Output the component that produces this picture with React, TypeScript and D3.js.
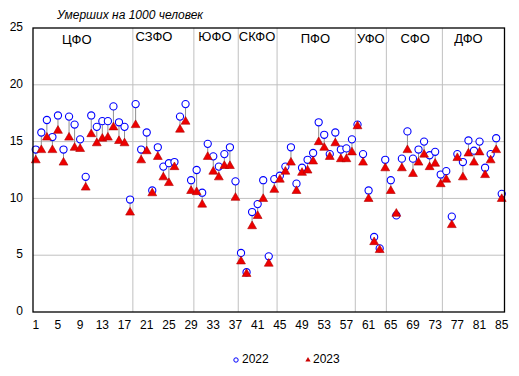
import React, { useEffect, useRef } from "react";
import * as d3 from "d3";

const regions: number[] = d3.range(1, 86);
const deaths2022: number[] = [
  14.3, 15.8, 16.9, 15.4, 17.3, 14.3, 17.2, 16.5, 15.2, 11.9,
  17.3, 16.3, 16.8, 16.8, 18.1, 16.7, 16.3, 9.9,
  18.3, 14.3, 15.8, 10.7, 14.5, 12.8, 13.1, 13.2, 17.2, 18.3, 11.6,
  12.5, 10.5, 14.8, 13.7, 12.8, 13.9, 14.5, 11.5,
  5.2, 3.5, 8.8, 9.5, 11.6, 4.9, 11.7,
  12.0, 12.8, 14.5, 11.3, 12.7, 13.4, 14.0, 16.7, 15.6, 13.9, 15.8, 14.3, 14.4, 15.2,
  16.5, 13.9, 10.7, 6.6, 5.6, 13.4,
  11.6, 8.5, 13.5, 15.9, 13.5, 14.3, 15.0, 13.8, 14.1, 12.1,
  12.4, 8.4, 13.9, 13.2, 15.1, 14.2, 15.0, 12.7, 13.9, 15.3, 10.4,
];
const deaths2023: number[] = [
  13.4, 14.3, 15.4, 14.3, 16.0, 13.2, 15.4, 14.5, 14.4, 11.0,
  15.7, 14.9, 15.3, 15.4, 16.3, 15.1, 14.9, 8.8,
  16.5, 13.4, 14.2, 10.5, 13.7, 11.9, 11.4, 12.8, 16.1, 16.8, 10.7,
  10.6, 9.5, 13.7, 12.4, 11.9, 12.9, 12.9, 10.1,
  4.5, 3.4, 7.6, 8.5, 10.0, 4.3, 10.8,
  11.7, 12.4, 13.2, 10.7, 12.3, 12.5, 13.3, 15.0, 14.5, 13.7, 14.9, 13.5, 13.5, 14.1,
  16.4, 13.2, 10.0, 6.2, 5.5, 12.7,
  10.7, 8.7, 12.7, 14.3, 12.2, 13.2, 13.9, 12.8, 13.1, 11.3,
  11.7, 7.7, 13.6, 11.9, 14.0, 13.2, 14.1, 12.1, 13.4, 14.3, 10.0,
];
const districts: string[] = ["ЦФО", "СЗФО", "ЮФО", "СКФО", "ПФО", "УФО", "СФО", "ДФО"];
// separator positions in category units (boundary after category n)
const separators: number[] = [18, 29, 37, 44, 58.1, 63.7, 73.8];
// label centre positions in category units
const labelPos: number[] = [7.9, 21.8, 32.8, 40.4, 50.9, 60.9, 68.9, 78.5];
const labelValue: number[] = [23.86, 24.12, 24.12, 24.12, 23.94, 23.94, 23.94, 23.94];
const yTicks: number[] = [0, 5, 10, 15, 20, 25];
const xTickLabels: number[] = d3.range(1, 86, 4);
const seriesNames: string[] = ["2022", "2023"];

const W = 519, H = 376;
const M = { left: 33, right: 504.5, top: 28, bottom: 312 };

export default function App() {
  const ref = useRef<SVGSVGElement>(null);
  useEffect(() => {
    const svg = d3.select(ref.current);
    svg.selectAll("*").remove();
    const x = d3.scaleBand<number>().domain(regions).range([M.left, M.right]).padding(0);
    const xc = (k: number) => (x(k) as number) + x.bandwidth() / 2;
    const xb = d3.scaleLinear().domain([0, 85]).range([M.left, M.right]);
    const y = d3.scaleLinear().domain([0, 25]).range([M.bottom, M.top]);
    const font = "Arial, 'Liberation Sans', sans-serif";

    svg.append("rect").attr("x", 0).attr("y", 0).attr("width", W).attr("height", H).attr("fill", "#fff");

    // gridlines
    svg.append("g").selectAll("line").data(yTicks.filter((t) => t > 0 && t < 25)).join("line")
      .attr("x1", M.left).attr("x2", M.right)
      .attr("y1", (d) => y(d)).attr("y2", (d) => y(d))
      .attr("stroke", "#c0c0c0").attr("stroke-width", 1);

    // separators
    svg.append("g").selectAll("line").data(separators).join("line")
      .attr("x1", (d) => xb(d)).attr("x2", (d) => xb(d))
      .attr("y1", M.top).attr("y2", M.bottom)
      .attr("stroke", "#c0c0c0").attr("stroke-width", 1);

    // district labels
    svg.append("g").selectAll("text").data(districts).join("text")
      .attr("x", (_d, i) => xb(labelPos[i]))
      .attr("y", (_d, i) => y(labelValue[i]))
      .attr("text-anchor", "middle").attr("dominant-baseline", "middle")
      .attr("font-family", font).attr("font-size", 13).attr("fill", "#000")
      .text((d) => d);

    // high-low lines
    svg.append("g").selectAll("line").data(regions).join("line")
      .attr("x1", (k) => xc(k)).attr("x2", (k) => xc(k))
      .attr("y1", (_k, i) => y(deaths2022[i])).attr("y2", (_k, i) => y(deaths2023[i]))
      .attr("stroke", "#909090").attr("stroke-width", 1);

    // 2022 circles
    svg.append("g").selectAll("circle").data(regions).join("circle")
      .attr("cx", (k) => xc(k)).attr("cy", (_k, i) => y(deaths2022[i]))
      .attr("r", 3.6).attr("fill", "#fff").attr("stroke", "#0000ff").attr("stroke-width", 1.1);

    // 2023 triangles
    const tri = d3.symbol().type(d3.symbolTriangle).size(34);
    svg.append("g").selectAll("path").data(regions).join("path")
      .attr("d", tri() as string)
      .attr("transform", (k, i) => `translate(${xc(k)},${y(deaths2023[i]) + 0.5})`)
      .attr("fill", "#ee0000").attr("stroke", "#b00000").attr("stroke-width", 0.6);

    // frame
    svg.append("rect").attr("x", M.left).attr("y", M.top)
      .attr("width", M.right - M.left).attr("height", M.bottom - M.top)
      .attr("fill", "none").attr("stroke", "#000").attr("stroke-width", 1.3);

    // y labels
    svg.append("g").selectAll("text").data(yTicks).join("text")
      .attr("x", M.left - 10).attr("y", (d) => y(d))
      .attr("text-anchor", "end").attr("dominant-baseline", "middle")
      .attr("font-family", font).attr("font-size", 12).text((d) => String(d));

    // x labels
    svg.append("g").selectAll("text").data(xTickLabels).join("text")
      .attr("x", (d) => xc(d)).attr("y", M.bottom + 14)
      .attr("text-anchor", "middle").attr("dominant-baseline", "middle")
      .attr("font-family", font).attr("font-size", 12).text((d) => String(d));

    // title
    svg.append("text").attr("x", 57).attr("y", 16).attr("dominant-baseline", "middle")
      .attr("font-family", font).attr("font-size", 12).attr("font-style", "italic")
      .text("Умерших на 1000 человек");

    // legend
    const lg = svg.append("g");
    lg.append("circle").attr("cx", 236).attr("cy", 360).attr("r", 2.2)
      .attr("fill", "#fff").attr("stroke", "#0000ff").attr("stroke-width", 1);
    lg.append("text").attr("x", 242).attr("y", 360).attr("dominant-baseline", "middle")
      .attr("font-family", font).attr("font-size", 12).text(seriesNames[0]);
    lg.append("path").attr("d", d3.symbol().type(d3.symbolTriangle).size(12)() as string)
      .attr("transform", "translate(308,360)").attr("fill", "#cc0000");
    lg.append("text").attr("x", 313).attr("y", 360).attr("dominant-baseline", "middle")
      .attr("font-family", font).attr("font-size", 12).text(seriesNames[1]);
  }, []);
  return (
    <svg ref={ref} width={W} height={H} style={{ position: "absolute", left: 0, top: 0 }} />
  );
}
